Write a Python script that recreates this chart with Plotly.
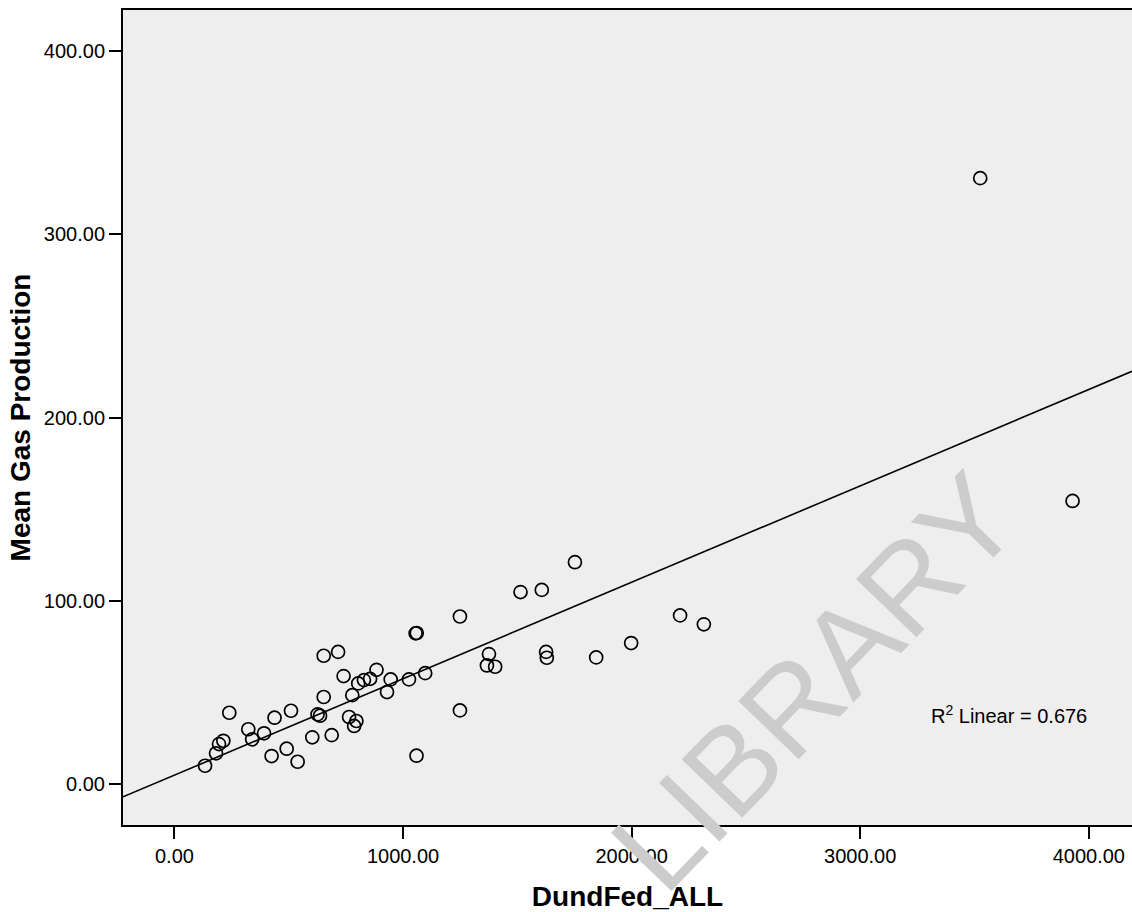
import numpy as np
import plotly.graph_objects as go

# Data (DundFed_ALL vs Mean Gas Production)
dundfed_all = [134, 182, 195, 214, 240, 323, 340, 392, 425, 438, 491, 510, 539,
               603, 626, 637, 653, 653, 688, 716, 740, 764, 778, 786, 796, 804,
               829, 856, 884, 930, 946, 1026, 1055, 1060, 1059, 1097, 1249, 1249,
               1376, 1367, 1403, 1514, 1607, 1752, 1626, 1629, 1845, 1998, 2212,
               2316, 3525, 3929]
mean_gas_production = [10.1, 16.9, 21.9, 23.7, 39.0, 30.0, 24.5, 27.8, 15.4, 36.3,
                       19.4, 40.1, 12.3, 25.6, 38.1, 37.4, 47.6, 70.1, 26.8, 72.2,
                       59.0, 36.7, 48.6, 31.8, 34.5, 55.0, 56.8, 57.5, 62.4, 50.3,
                       57.2, 57.2, 82.3, 82.5, 15.6, 60.6, 91.5, 40.3, 71.0, 64.8,
                       64.1, 104.8, 106.0, 121.1, 72.2, 69.0, 69.2, 77.0, 92.1,
                       87.2, 330.5, 154.5]

x_ticks = [0, 1000, 2000, 3000, 4000]
x_tick_labels = ["0.00", "1000.00", "2000.00", "3000.00", "4000.00"]
y_ticks = [0, 100, 200, 300, 400]
y_tick_labels = ["0.00", "100.00", "200.00", "300.00", "400.00"]
x_range = [-225, 4189]
y_range = [-22.2, 422.2]

r2_label = "R<sup>2</sup> Linear = 0.676"

# Linear fit line (computed from the data)
xa = np.array(dundfed_all, dtype=float)
ya = np.array(mean_gas_production, dtype=float)
slope, intercept = np.polyfit(xa, ya, 1)
line_x = np.array(x_range)
line_y = slope * line_x + intercept

fig = go.Figure()
fig.add_trace(go.Scatter(
    x=line_x, y=line_y, mode="lines",
    line=dict(color="black", width=1.6), hoverinfo="skip", showlegend=False))
fig.add_trace(go.Scatter(
    x=dundfed_all, y=mean_gas_production, mode="markers",
    marker=dict(symbol="circle-open", size=13, color="black",
                line=dict(color="black", width=1.7)),
    showlegend=False))

font_family = "Liberation Sans, Arial, sans-serif"

fig.update_layout(
    width=1132, height=912,
    margin=dict(l=123, r=0, t=10, b=87),
    paper_bgcolor="white", plot_bgcolor="#EEEEEE",
    font=dict(family=font_family, size=20, color="black"),
    xaxis=dict(range=x_range, tickvals=x_ticks, ticktext=x_tick_labels,
               showgrid=False, zeroline=False, showline=True, linecolor="black",
               linewidth=2, mirror=True, ticks="outside", ticklen=12,
               tickwidth=2, tickcolor="black",
               title=dict(text="<b>DundFed_ALL</b>", font=dict(size=28), standoff=21)),
    yaxis=dict(range=y_range, tickvals=y_ticks, ticktext=y_tick_labels,
               showgrid=False, zeroline=False, showline=True, linecolor="black",
               linewidth=2, ticks="outside", ticklen=12, tickwidth=2,
               tickcolor="black",
               title=dict(text="<b>Mean Gas Production</b>", font=dict(size=28), standoff=5)),
    annotations=[
        dict(text=r2_label, x=3300, y=38, xref="x", yref="y",
             xanchor="left", yanchor="middle", showarrow=False,
             font=dict(size=20, color="black")),
        dict(text="LIBRARY", x=(815 - 123) / 1009, y=(825 - 682) / 815,
             xref="paper", yref="paper", xanchor="center", yanchor="middle",
             textangle=-46, showarrow=False,
             font=dict(size=122, color="#CCCCCC", family=font_family)),
    ],
)

fig.write_html("out.html", config={"displayModeBar": False},
               post_script="document.body.style.margin='0';")
